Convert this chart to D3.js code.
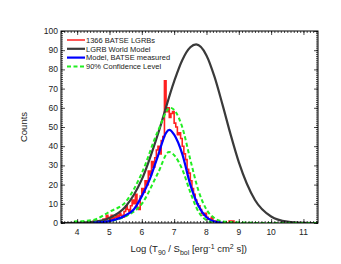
<!DOCTYPE html>
<html>
<head>
<meta charset="utf-8">
<script src="https://cdn.jsdelivr.net/npm/d3@7"></script>
<style>
  body { margin: 0; background: #fff; }
  svg { font-family: "Liberation Sans", Arial, sans-serif; }
</style>
</head>
<body>
<svg id="chart" width="341" height="264"></svg>
<script>
// histogram: 0.05 wide bins, starting at binStart
var binStart = 4.4;
var binWidth = 0.05;
var histCounts = [0, 0, 1, 0, 0, 1, 0, 1, 2, 1, 4, 3, 2, 4, 2, 3, 4, 3, 5, 4,
    3, 6, 9, 7, 6, 9, 12, 10, 15, 8, 7, 14, 18, 16, 22, 20, 27, 25, 32, 29,
    34, 38, 40, 36, 43, 45, 74, 58, 60, 55, 57, 58, 52, 50, 46, 47, 44, 40, 36, 33,
    28, 26, 22, 18, 15, 12, 10, 9, 7, 5, 4, 5, 3, 2, 2, 3, 1, 1, 1, 0,
    0, 0, 0, 0, 0, 0, 1, 1, 1, 0];

// LGRB world model
var worldX = [3.5, 4, 4.5, 5, 5.5, 6, 6.5, 7, 7.25, 7.5, 7.68, 8, 8.25, 8.5, 8.75, 9, 9.5, 10, 10.5, 11, 11.45];
var worldY = [0, 0.1, 0.6, 2.6, 8.6, 22.7, 46.4, 73.8, 84.8, 91.5, 93, 87.3, 76.1, 61.4, 45.9, 31.7, 12, 3.4, 0.7, 0.1, 0];

// model as BATSE would measure it
var modelX = [4.5, 5, 5.5, 5.75, 6, 6.25, 6.5, 6.75, 6.85, 7, 7.25, 7.5, 7.75, 8, 8.25, 8.5];
var modelY = [0.2, 1, 4, 7, 14, 23, 35, 47, 48.5, 46, 36, 20, 9, 3, 0.8, 0.1];

// 90% confidence band
var upperX = [3.9, 4.5, 5, 5.5, 6, 6.5, 6.88, 7.25, 7.5, 7.75, 8, 8.25, 8.5, 9, 9.5];
var upperY = [0.8, 1.6, 5.9, 11, 26, 48, 60, 50, 33, 17, 7, 2.5, 0.8, 0.3, 0.1];
var lowerX = [4.5, 5, 5.5, 6, 6.5, 6.84, 7.25, 7.5, 7.75, 8, 8.25, 8.5, 9, 11.45];
var lowerY = [0.3, 1, 3.5, 10, 26, 37, 28, 16, 6, 1.5, 0.3, 0, 0, 0];

var xTicks = [4, 5, 6, 7, 8, 9, 10, 11];
var yTicks = [0, 10, 20, 30, 40, 50, 60, 70, 80, 90, 100];

var legendItems = [
    {label: "1366 BATSE LGRBs", color: "#ff2020", width: 1.5, dash: null},
    {label: "LGRB World Model", color: "#3a3a3a", width: 2.2, dash: null},
    {label: "Model, BATSE measured", color: "#0000ff", width: 2.2, dash: null},
    {label: "90% Confidence Level", color: "#22ee22", width: 2, dash: "4,2.5"}
];

var margin = {top: 31, right: 23, bottom: 41, left: 61};
var width = 341 - margin.left - margin.right;
var height = 264 - margin.top - margin.bottom;

var svg = d3.select("#chart");
var g = svg.append("g").attr("transform", "translate(" + margin.left + "," + margin.top + ")");

var x = d3.scaleLinear().domain([3.5, 11.45]).range([0, width]);
var y = d3.scaleLinear().domain([0, 100]).range([height, 0]);

g.append("clipPath").attr("id", "clip")
    .append("rect").attr("width", width).attr("height", height);

var plot = g.append("g").attr("clip-path", "url(#clip)");

function zip(xs, ys) {
    return xs.map(function(v, i) { return [v, ys[i]]; });
}

var curve = d3.line()
    .x(function(d) { return x(d[0]); })
    .y(function(d) { return y(d[1]); })
    .curve(d3.curveMonotoneX);

// histogram as a step outline
var steps = [];
histCounts.forEach(function(c, i) {
    var x0 = binStart + i * binWidth;
    steps.push([x0, c]);
    steps.push([x0 + binWidth, c]);
});
steps.unshift([binStart, 0]);
steps.push([binStart + histCounts.length * binWidth, 0]);

plot.append("path")
    .attr("d", d3.line().x(function(d) { return x(d[0]); }).y(function(d) { return y(d[1]); })(steps))
    .attr("fill", "none").attr("stroke", legendItems[0].color).attr("stroke-width", 1.6);

plot.append("path").attr("d", curve(zip(worldX, worldY)))
    .attr("fill", "none").attr("stroke", legendItems[1].color).attr("stroke-width", 2.2);

plot.append("path").attr("d", curve(zip(upperX, upperY)))
    .attr("fill", "none").attr("stroke", legendItems[3].color).attr("stroke-width", 2)
    .attr("stroke-dasharray", "4,2.5");
plot.append("path").attr("d", curve(zip(lowerX, lowerY)))
    .attr("fill", "none").attr("stroke", legendItems[3].color).attr("stroke-width", 2)
    .attr("stroke-dasharray", "4,2.5");

plot.append("path").attr("d", curve(zip(modelX, modelY)))
    .attr("fill", "none").attr("stroke", legendItems[2].color).attr("stroke-width", 2.2);

// frame
g.append("rect").attr("width", width).attr("height", height)
    .attr("fill", "none").attr("stroke", "#000").attr("stroke-width", 1);

// axes with inward ticks, mirrored on all sides
var xMinor = d3.range(35, 115).map(function(v) { return v / 10; });
var yMinor = d3.range(0, 101);

function tickAxis(axisFn, scale, vals, len) {
    return axisFn(scale).tickValues(vals).tickSizeInner(len).tickSizeOuter(0).tickFormat("");
}

g.append("g").attr("transform", "translate(0," + height + ")")
    .call(tickAxis(d3.axisTop, x, xMinor, 2));
g.append("g").attr("transform", "translate(0," + height + ")")
    .call(tickAxis(d3.axisTop, x, xTicks, 4));
g.append("g").call(tickAxis(d3.axisBottom, x, xMinor, 2));
g.append("g").call(tickAxis(d3.axisBottom, x, xTicks, 4));
g.append("g").call(tickAxis(d3.axisRight, y, yMinor, 2));
g.append("g").call(tickAxis(d3.axisRight, y, yTicks, 4));
g.append("g").attr("transform", "translate(" + width + ",0)")
    .call(tickAxis(d3.axisLeft, y, yMinor, 2));
g.append("g").attr("transform", "translate(" + width + ",0)")
    .call(tickAxis(d3.axisLeft, y, yTicks, 4));

g.selectAll(".domain").remove();
g.selectAll(".tick line").attr("stroke", "#000").attr("stroke-width", 0.7);

// tick labels
g.selectAll(".xlab").data(xTicks).enter().append("text")
    .attr("x", function(d) { return x(d); })
    .attr("y", height + 12)
    .attr("text-anchor", "middle")
    .attr("font-size", 8.5)
    .attr("fill", "#222")
    .text(function(d) { return d; });

g.selectAll(".ylab").data(yTicks).enter().append("text")
    .attr("x", -3)
    .attr("y", function(d) { return y(d) + 3; })
    .attr("text-anchor", "end")
    .attr("font-size", 8.5)
    .attr("fill", "#222")
    .text(function(d) { return d; });

// axis titles
svg.append("text")
    .attr("transform", "translate(27," + (margin.top + height / 2) + ") rotate(-90)")
    .attr("text-anchor", "middle")
    .attr("font-size", 9.5)
    .attr("fill", "#222")
    .text("Counts");

var xt = svg.append("text")
    .attr("x", margin.left + x(7.45))
    .attr("y", 252)
    .attr("text-anchor", "middle")
    .attr("font-size", 9.5)
    .attr("fill", "#222");
xt.append("tspan").text("Log (T");
xt.append("tspan").attr("font-size", 7).attr("dy", 2.5).text("90");
xt.append("tspan").attr("dy", -2.5).text(" / S");
xt.append("tspan").attr("font-size", 7).attr("dy", 2.5).text("bol");
xt.append("tspan").attr("dy", -2.5).text(" [erg");
xt.append("tspan").attr("font-size", 7).attr("dy", -3.5).text("-1");
xt.append("tspan").attr("dy", 3.5).text(" cm");
xt.append("tspan").attr("font-size", 7).attr("dy", -3.5).text("2");
xt.append("tspan").attr("dy", 3.5).text(" s])");

// legend
var leg = g.selectAll(".leg").data(legendItems).enter().append("g")
    .attr("transform", function(d, i) { return "translate(6," + (9 + i * 8.8) + ")"; });
leg.append("line")
    .attr("x1", 0).attr("x2", 18)
    .attr("stroke", function(d) { return d.color; })
    .attr("stroke-width", function(d) { return d.width; })
    .attr("stroke-dasharray", function(d) { return d.dash; });
leg.append("text")
    .attr("x", 19).attr("y", 2.8)
    .attr("font-size", 7.5)
    .attr("fill", "#222")
    .text(function(d) { return d.label; });
</script>
</body>
</html>
